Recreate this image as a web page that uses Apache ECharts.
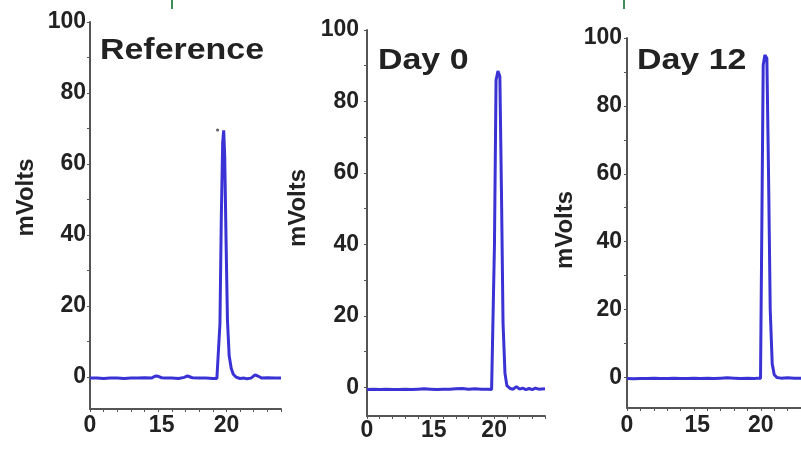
<!DOCTYPE html>
<html>
<head>
<meta charset="utf-8">
<script src="https://cdn.jsdelivr.net/npm/echarts@6/dist/echarts.min.js"></script>
<style>
html,body{margin:0;padding:0;background:#fff;}
#chart{width:801px;height:460px;}
</style>
</head>
<body>
<div id="chart"></div>
<script>
// ---- data ----
const panelTitles = ['Reference', 'Day 0', 'Day 12'];
const yAxisName = 'mVolts';
const yTickValues = [0, 20, 40, 60, 80, 100];
const yMinorTicks = [0, 10, 20, 30, 40, 50, 60, 70, 80, 90, 100];
const xLabelPositions = [0, 10.5, 20];
const xLabelTexts = ['0', '15', '20'];

const refTime = [0,1,2,3,4,5,6,7,8,9,9.6,10,10.5,11,12,13,13.8,14.3,15,16,17,18,18.6,18.85,19.05,19.25,19.45,19.6,19.75,19.95,20.15,20.4,20.7,21.0,21.4,22,22.6,23,23.6,24.2,24.6,25.2,26,27,28];
const refSignal = [-0.3,-0.3,-0.4,-0.3,-0.3,-0.4,-0.3,-0.3,-0.2,-0.3,0.3,0.2,-0.2,-0.3,-0.3,-0.4,-0.1,0.3,-0.2,-0.3,-0.3,-0.4,-0.4,-0.3,15,45,66,69.5,62,38,16,6,2.5,0.8,0,-0.4,-0.3,-0.5,-0.3,0.6,0.3,-0.3,-0.2,-0.3,-0.3];
const refMarker = [18.7, 69.6];

const day0Time = [0,1,2,3,4,5,6,7,8,9,10,11,12,13,14,15,16,17,18,19,19.6,19.85,20.05,20.3,20.6,20.9,21.15,21.4,21.7,22.0,22.5,23,23.5,24,24.5,25,25.5,26,26.5,27,28];
const day0Signal = [-0.6,-0.5,-0.6,-0.5,-0.6,-0.6,-0.5,-0.6,-0.5,-0.4,-0.5,-0.6,-0.5,-0.5,-0.4,-0.3,-0.5,-0.4,-0.5,-0.5,-0.6,-0.5,40,86,88.5,87,55,18,4,0.5,-0.3,-0.5,0.2,-0.5,-0.2,-0.6,-0.3,-0.6,-0.2,-0.5,-0.4];

const day12Time = [0,1,2,3,4,5,6,7,8,9,10,11,12,13,14,15,16,17,18,19,19.6,19.95,20.15,20.35,20.6,20.9,21.15,21.4,21.7,22.0,22.4,23,24,25,26];
const day12Signal = [-0.3,-0.4,-0.3,-0.3,-0.2,-0.3,-0.3,-0.2,-0.3,-0.3,-0.2,-0.3,-0.2,-0.3,-0.2,-0.1,-0.2,-0.3,-0.2,-0.3,-0.2,-0.3,45,92,95,94,60,20,4,0.8,0,-0.2,-0.1,-0.2,-0.2];

// ---- layout ----
const panels = [
  {grid:{left:90, top:22, width:191, height:387}, yMin:-9, xMax:28, nameGap:52, namePad:[0,0,0,36], labelMargin:4, xLabelMargin:5},
  {grid:{left:367, top:30, width:178, height:386}, yMin:-8, xMax:28, nameGap:57, namePad:[0,0,0,30], labelMargin:8, xLabelMargin:3},
  {grid:{left:627, top:38, width:174, height:370}, yMin:-9, xMax:26, nameGap:50, namePad:[0,14,0,0], labelMargin:5, xLabelMargin:6}
];
const seriesData = [
  refTime.map((t,i)=>[t, refSignal[i]]),
  day0Time.map((t,i)=>[t, day0Signal[i]]),
  day12Time.map((t,i)=>[t, day12Signal[i]])
];

const lineColor = '#3a32d4';
const axisColor = '#555';
const textColor = '#222';
const labelFont = {fontFamily:'Liberation Sans, Arial, sans-serif', fontWeight:'bold', fontSize:23, color:textColor};

const grids = [], xAxes = [], yAxes = [], series = [];
panels.forEach((p, i) => {
  grids.push(Object.assign({containLabel:false}, p.grid));
  xAxes.push({
    type:'value', gridIndex:i, min:0, max:p.xMax, interval:2,
    axisLine:{show:true, onZero:false, lineStyle:{color:axisColor, width:2}},
    axisTick:{show:true, length:3, lineStyle:{color:axisColor, width:1}},
    axisLabel:Object.assign({customValues:xLabelPositions, margin:p.xLabelMargin,
      formatter:(v)=>{const k = xLabelPositions.indexOf(v); return k>=0 ? xLabelTexts[k] : '';}}, labelFont),
    splitLine:{show:false}
  });
  yAxes.push({
    type:'value', gridIndex:i, min:p.yMin, max:100,
    name:yAxisName, nameLocation:'middle', nameGap:p.nameGap, nameRotate:90,
    nameTextStyle:Object.assign({}, labelFont, {fontSize:24, padding:p.namePad}),
    axisLine:{show:true, lineStyle:{color:axisColor, width:2}},
    axisTick:{show:true, length:3, customValues:yMinorTicks, lineStyle:{color:axisColor, width:1}},
    axisLabel:Object.assign({customValues:yTickValues, margin:p.labelMargin}, labelFont),
    splitLine:{show:false}
  });
  series.push({
    type:'line', xAxisIndex:i, yAxisIndex:i, data:seriesData[i],
    showSymbol:false, symbol:'none', smooth:false, animation:false,
    lineStyle:{color:lineColor, width:3}
  });
});
series.push({
  type:'scatter', xAxisIndex:0, yAxisIndex:0, data:[refMarker],
  symbolSize:3, itemStyle:{color:'#333'}, animation:false
});

const titlePos = [[100,36],[378,46],[637,46]];
const graphics = panelTitles.map((t,i)=>({
  type:'text', left:titlePos[i][0], top:titlePos[i][1], scaleX:1.17,
  style:{text:t, fontFamily:'Liberation Sans, Arial, sans-serif', fontWeight:'bold', fontSize:29, fill:textColor}
}));
graphics.push({type:'line', shape:{x1:172,y1:0,x2:172,y2:9}, style:{stroke:'#3f8a5a', lineWidth:2}});
graphics.push({type:'line', shape:{x1:624,y1:0,x2:624,y2:9}, style:{stroke:'#3f8a5a', lineWidth:2}});

const chart = echarts.init(document.getElementById('chart'), null, {renderer:'canvas'});
chart.setOption({
  animation:false,
  backgroundColor:'#fff',
  grid:grids, xAxis:xAxes, yAxis:yAxes, series:series, graphic:graphics
});
</script>
</body>
</html>
